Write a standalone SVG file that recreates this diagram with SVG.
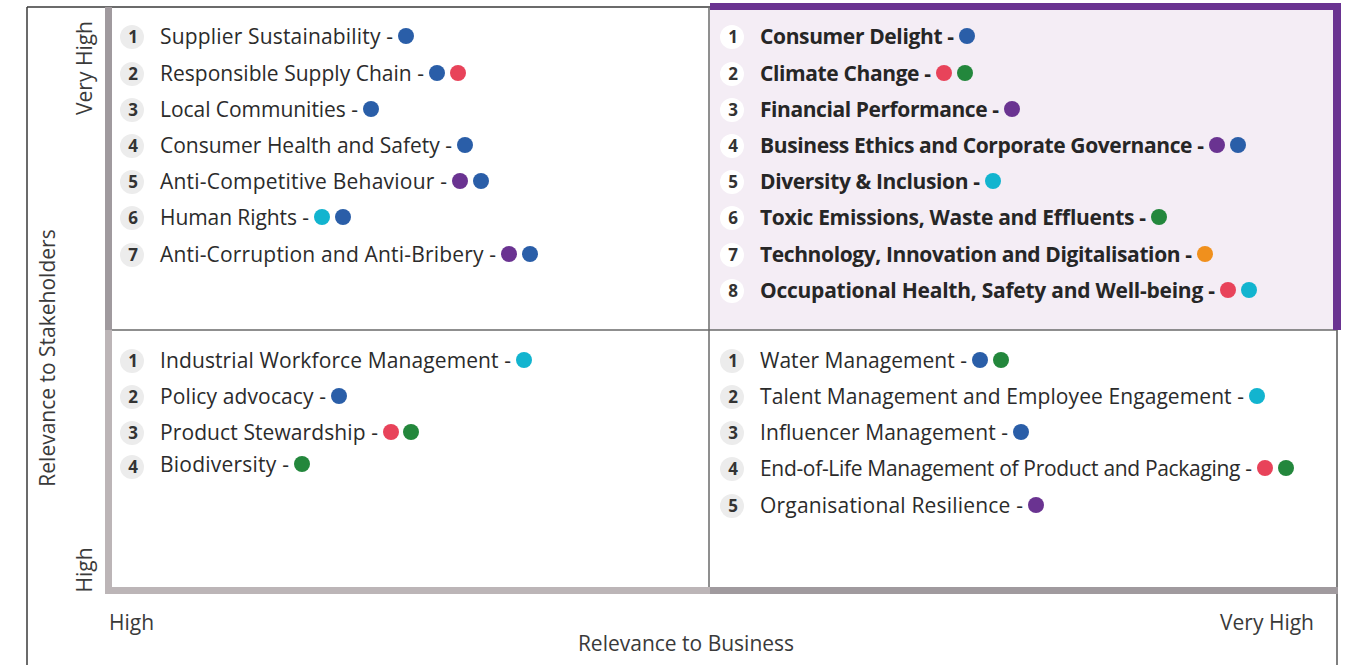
<svg xmlns="http://www.w3.org/2000/svg" width="1347" height="665" viewBox="0 0 1347 665">
<style>
.it{font-family:"Open Sans","Noto Sans",sans-serif;font-size:21px;fill:#2b2b2b}
.itb{font-family:"Open Sans","Noto Sans",sans-serif;font-size:21px;font-weight:700;fill:#262626}
.num{font-family:"Open Sans","Noto Sans",sans-serif;font-size:17px;font-weight:700;fill:#333333;text-anchor:middle}
.ax{font-family:"Open Sans","Noto Sans",sans-serif;font-size:21px;fill:#3a3a3a}
.nb{fill:#ececec}
.nw{fill:#ffffff}
.b{fill:#2a5ea8}.r{fill:#e8435a}.g{fill:#23873c}.p{fill:#6a3391}.c{fill:#12b4cf}.o{fill:#f0901d}
</style>
<rect width="1347" height="665" fill="#ffffff"/>
<g id="frame">
<rect x="710" y="6" width="627" height="324" fill="#f4edf5"/>
<line x1="27" y1="7" x2="710" y2="7" stroke="#3a3a3a" stroke-width="1.5"/>
<line x1="27" y1="7" x2="27" y2="665" stroke="#3a3a3a" stroke-width="1.5"/>
<line x1="1337" y1="330" x2="1337" y2="665" stroke="#555" stroke-width="1.5"/>
<line x1="105" y1="330" x2="1337" y2="330" stroke="#6a6a6a" stroke-width="1.5"/>
<line x1="709" y1="7" x2="709" y2="587" stroke="#6a6a6a" stroke-width="1.5"/>
<rect x="105" y="7" width="7" height="323" fill="#a09a9e"/>
<rect x="105" y="330" width="7" height="257" fill="#bcb5b7"/>
<rect x="105" y="587" width="605" height="7" fill="#bcb5b7"/>
<rect x="710" y="587" width="628" height="7" fill="#a09a9e"/>
<rect x="710" y="3" width="631" height="7" fill="#6a3391"/>
<rect x="1333" y="3" width="8" height="327" fill="#6a3391"/>
</g>
<g id="axes">
<text class="ax" transform="translate(92,68) rotate(-90)" text-anchor="middle">Very High</text>
<text class="ax" transform="translate(92,570) rotate(-90)" text-anchor="middle">High</text>
<text class="ax" transform="translate(55,358) rotate(-90)" text-anchor="middle">Relevance to Stakeholders</text>
<text class="ax" x="109" y="630">High</text>
<text class="ax" x="1314" y="630" text-anchor="end">Very High</text>
<text class="ax" x="686" y="651" text-anchor="middle">Relevance to Business</text>
</g>
<g id="q-top-left">
<circle class="nb" cx="132" cy="37" r="12"/><text class="num" x="133" y="43">1</text><text class="it" x="160" y="44" textLength="233">Supplier Sustainability -</text><circle class="b" cx="406" cy="36" r="8"/>
<circle class="nb" cx="132" cy="74" r="12"/><text class="num" x="133" y="80">2</text><text class="it" x="160" y="81" textLength="264">Responsible Supply Chain -</text><circle class="b" cx="437" cy="73" r="8"/><circle class="r" cx="458" cy="73" r="8"/>
<circle class="nb" cx="132" cy="110" r="12"/><text class="num" x="133" y="116">3</text><text class="it" x="160" y="117" textLength="198">Local Communities -</text><circle class="b" cx="371" cy="109" r="8"/>
<circle class="nb" cx="132" cy="146" r="12"/><text class="num" x="133" y="152">4</text><text class="it" x="160" y="153" textLength="292">Consumer Health and Safety -</text><circle class="b" cx="465" cy="145" r="8"/>
<circle class="nb" cx="132" cy="182" r="12"/><text class="num" x="133" y="188">5</text><text class="it" x="160" y="189" textLength="287">Anti-Competitive Behaviour -</text><circle class="p" cx="460" cy="181" r="8"/><circle class="b" cx="481" cy="181" r="8"/>
<circle class="nb" cx="132" cy="218" r="12"/><text class="num" x="133" y="224">6</text><text class="it" x="160" y="225" textLength="149">Human Rights -</text><circle class="c" cx="322" cy="217" r="8"/><circle class="b" cx="343" cy="217" r="8"/>
<circle class="nb" cx="132" cy="255" r="12"/><text class="num" x="133" y="261">7</text><text class="it" x="160" y="262" textLength="336">Anti-Corruption and Anti-Bribery -</text><circle class="p" cx="509" cy="254" r="8"/><circle class="b" cx="530" cy="254" r="8"/>
</g>
<g id="q-top-right">
<circle class="nw" cx="732" cy="37" r="12"/><text class="num" x="733" y="43">1</text><text class="itb" x="760" y="44" textLength="194">Consumer Delight -</text><circle class="b" cx="967" cy="36" r="8"/>
<circle class="nw" cx="732" cy="74" r="12"/><text class="num" x="733" y="80">2</text><text class="itb" x="760" y="81" textLength="171">Climate Change -</text><circle class="r" cx="944" cy="73" r="8"/><circle class="g" cx="965" cy="73" r="8"/>
<circle class="nw" cx="732" cy="110" r="12"/><text class="num" x="733" y="116">3</text><text class="itb" x="760" y="117" textLength="239">Financial Performance -</text><circle class="p" cx="1012" cy="109" r="8"/>
<circle class="nw" cx="732" cy="146" r="12"/><text class="num" x="733" y="152">4</text><text class="itb" x="760" y="153" textLength="444">Business Ethics and Corporate Governance -</text><circle class="p" cx="1217" cy="145" r="8"/><circle class="b" cx="1238" cy="145" r="8"/>
<circle class="nw" cx="732" cy="182" r="12"/><text class="num" x="733" y="188">5</text><text class="itb" x="760" y="189" textLength="220">Diversity &amp; Inclusion -</text><circle class="c" cx="993" cy="181" r="8"/>
<circle class="nw" cx="732" cy="218" r="12"/><text class="num" x="733" y="224">6</text><text class="itb" x="760" y="225" textLength="386">Toxic Emissions, Waste and Effluents -</text><circle class="g" cx="1159" cy="217" r="8"/>
<circle class="nw" cx="732" cy="255" r="12"/><text class="num" x="733" y="261">7</text><text class="itb" x="760" y="262" textLength="432">Technology, Innovation and Digitalisation -</text><circle class="o" cx="1205" cy="254" r="8"/>
<circle class="nw" cx="732" cy="291" r="12"/><text class="num" x="733" y="297">8</text><text class="itb" x="760" y="298" textLength="455">Occupational Health, Safety and Well-being -</text><circle class="r" cx="1228" cy="290" r="8"/><circle class="c" cx="1249" cy="290" r="8"/>
</g>
<g id="q-bottom-left">
<circle class="nb" cx="132" cy="361" r="12"/><text class="num" x="133" y="367">1</text><text class="it" x="160" y="368" textLength="351">Industrial Workforce Management -</text><circle class="c" cx="524" cy="360" r="8"/>
<circle class="nb" cx="132" cy="397" r="12"/><text class="num" x="133" y="403">2</text><text class="it" x="160" y="404" textLength="166">Policy advocacy -</text><circle class="b" cx="339" cy="396" r="8"/>
<circle class="nb" cx="132" cy="433" r="12"/><text class="num" x="133" y="439">3</text><text class="it" x="160" y="440" textLength="218">Product Stewardship -</text><circle class="r" cx="391" cy="432" r="8"/><circle class="g" cx="411" cy="432" r="8"/>
<circle class="nb" cx="132" cy="467" r="12"/><text class="num" x="133" y="473">4</text><text class="it" x="160" y="472" textLength="129">Biodiversity -</text><circle class="g" cx="302" cy="464" r="8"/>
</g>
<g id="q-bottom-right">
<circle class="nb" cx="732" cy="361" r="12"/><text class="num" x="733" y="367">1</text><text class="it" x="760" y="368" textLength="207">Water Management -</text><circle class="b" cx="980" cy="360" r="8"/><circle class="g" cx="1001" cy="360" r="8"/>
<circle class="nb" cx="732" cy="397" r="12"/><text class="num" x="733" y="403">2</text><text class="it" x="760" y="404" textLength="484">Talent Management and Employee Engagement -</text><circle class="c" cx="1257" cy="396" r="8"/>
<circle class="nb" cx="732" cy="433" r="12"/><text class="num" x="733" y="439">3</text><text class="it" x="760" y="440" textLength="248">Influencer Management -</text><circle class="b" cx="1021" cy="432" r="8"/>
<circle class="nb" cx="732" cy="469" r="12"/><text class="num" x="733" y="475">4</text><text class="it" x="760" y="476" textLength="492">End-of-Life Management of Product and Packaging -</text><circle class="r" cx="1265" cy="468" r="8"/><circle class="g" cx="1286" cy="468" r="8"/>
<circle class="nb" cx="732" cy="506" r="12"/><text class="num" x="733" y="512">5</text><text class="it" x="760" y="513" textLength="263">Organisational Resilience -</text><circle class="p" cx="1036" cy="505" r="8"/>
</g>
</svg>
